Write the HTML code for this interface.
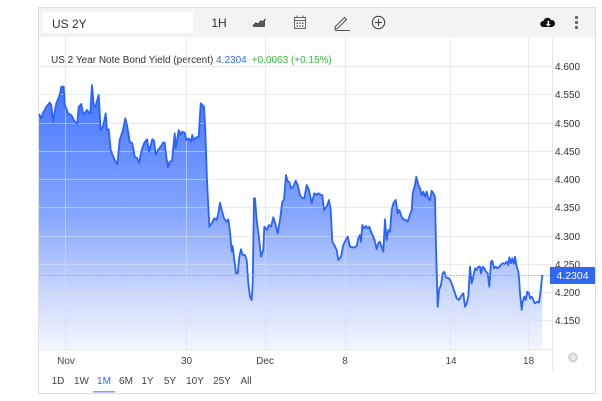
<!DOCTYPE html>
<html><head><meta charset="utf-8">
<style>
html,body{margin:0;padding:0;background:#fff;}
body{width:602px;height:401px;overflow:hidden;font-family:"Liberation Sans",Arial,sans-serif;}
svg{display:block;}
text{font-family:"Liberation Sans",Arial,sans-serif;}
</style></head><body>
<svg width="602" height="401" viewBox="0 0 602 401" xmlns="http://www.w3.org/2000/svg">
<defs>
<linearGradient id="g" gradientUnits="userSpaceOnUse" x1="0" y1="85" x2="0" y2="348">
<stop offset="0" stop-color="#2962ff" stop-opacity="0.88"/>
<stop offset="0.5" stop-color="#2962ff" stop-opacity="0.56"/>
<stop offset="0.82" stop-color="#2962ff" stop-opacity="0.22"/>
<stop offset="1" stop-color="#2962ff" stop-opacity="0.06"/>
</linearGradient>
</defs>
<!-- card -->
<rect x="38.5" y="7.5" width="557" height="386" fill="#fff" stroke="#dedede"/>
<rect x="39" y="8" width="556" height="29" fill="#f3f3f3"/>
<rect x="43" y="12" width="150" height="21" fill="#fff"/>
<text x="52" y="28" font-size="12" fill="#333">US 2Y</text>
<text x="219" y="27" font-size="12" fill="#333" text-anchor="middle">1H</text>
<!-- line chart icon -->
<path d="M253,27 L256,24 L258,25.5 L261,22 L263,23 L265,20 L265,27 Z" fill="#555"/>
<path d="M253,26 L256,23 L258,24.5 L261,21 L263,22 L265.5,19" fill="none" stroke="#333" stroke-width="1.2"/>
<!-- calendar -->
<rect x="294.5" y="17.5" width="11" height="11" fill="none" stroke="#666" stroke-width="1"/>
<line x1="294.5" y1="20.5" x2="305.5" y2="20.5" stroke="#666"/>
<line x1="297" y1="15.5" x2="297" y2="18" stroke="#666"/><line x1="303" y1="15.5" x2="303" y2="18" stroke="#666"/>
<g fill="#666"><rect x="296.5" y="22.5" width="1.5" height="1.5"/><rect x="299.3" y="22.5" width="1.5" height="1.5"/><rect x="302" y="22.5" width="1.5" height="1.5"/><rect x="296.5" y="25.3" width="1.5" height="1.5"/><rect x="299.3" y="25.3" width="1.5" height="1.5"/><rect x="302" y="25.3" width="1.5" height="1.5"/></g>
<!-- pencil -->
<path d="M335.5,26.5 L344.5,17.5 L346.5,19.5 L337.5,28.5 L335,29 Z" fill="none" stroke="#555" stroke-width="1.1"/>
<line x1="335" y1="30.5" x2="350" y2="30.5" stroke="#555" stroke-width="1"/>
<!-- circle plus -->
<circle cx="378.5" cy="22.5" r="6.2" fill="none" stroke="#444" stroke-width="1.1"/>
<line x1="378.5" y1="19" x2="378.5" y2="26" stroke="#444" stroke-width="1.1"/>
<line x1="375" y1="22.5" x2="382" y2="22.5" stroke="#444" stroke-width="1.1"/>
<!-- cloud -->
<path d="M543,27 a3,3 0 0 1 0.5,-6 a4,4 0 0 1 7.5,-1 a3.3,3.3 0 0 1 1,7 Z" fill="#111"/>
<path d="M547.5,21 L547.5,24 L545.8,24 L548.3,26.5 L550.8,24 L549.1,24 L549.1,21 Z" fill="#fff"/>
<!-- dots -->
<g fill="#666"><circle cx="576.5" cy="17.5" r="1.6"/><circle cx="576.5" cy="22.5" r="1.6"/><circle cx="576.5" cy="27.5" r="1.6"/></g>

<text x="51" y="63" font-size="10" fill="#333">US 2 Year Note Bond Yield (percent) <tspan fill="#2f6cf0">4.2304</tspan><tspan fill="#2fbf3a" dx="5">+0.0063 (+0.15%)</tspan></text>

<!-- series -->
<path id="s" d="M39,114 L41.3,118.3 L43,113 L46.3,106.7 L49.7,102.7 L51.3,105 L53,121.7 L54.7,111.7 L56.3,103.3 L59.7,95 L61.3,86.7 L63.7,86.7 L64.7,105 L66.3,108.3 L68,113.3 L71.3,115 L74.7,121.7 L77.3,123.3 L78.7,106.7 L81.3,104 L83,113.3 L84.7,113.3 L87,110 L88.7,112.3 L90.3,113.3 L92,85 L93.7,105 L95.3,106.7 L98.7,95 L100.7,130 L103,126.7 L105.7,113.3 L107,130 L108.7,129.3 L110.7,150 L114.7,160 L117.3,164.3 L119.7,140 L123,130 L125.3,118.3 L127.3,126.7 L129.7,141.7 L132.3,143.3 L134.7,156.7 L137.3,158.3 L139,163.3 L141.3,151.7 L144,143.3 L147,139.3 L149,151.7 L152.3,139.3 L154,140.7 L155.7,155 L158,150 L160.7,146.7 L163,142.7 L164.7,142.7 L166.3,156.7 L168,167.3 L169.7,161.7 L172,161 L174.7,133.3 L175.7,148.3 L178.7,130 L180.7,135 L182,131.7 L184.7,132.7 L186.3,140 L188.7,138.3 L190.7,141.7 L192.3,135 L193.7,140 L196.3,137.3 L198.7,136.7 L200.7,103.3 L202.3,105 L204,106.7 L205.3,130 L207,180 L209.3,226.7 L211.7,223.3 L214.3,218.3 L216.7,220 L218.3,213.3 L220,202.7 L221.7,210 L224,218.3 L226.7,221.7 L228.3,219.3 L230,231.7 L231.7,251.7 L232.7,246 L234.3,260 L236,273.3 L237.7,273.3 L239.3,256.7 L241,249.3 L242.7,255 L245,255 L246.7,260 L248.3,283.3 L250,296.7 L251.7,300 L252.7,283.3 L254,198.3 L255,198.3 L256.7,220 L259,238.3 L261,256.7 L263.3,250 L264.3,226.7 L266.7,230 L269,225 L271,226.7 L273.3,217.3 L275.7,225 L277.7,233.3 L280,220 L282.3,201.7 L284,200 L286,175 L287.7,181.7 L289.3,181.7 L291,188.3 L293.3,186.7 L295.7,180.7 L297.7,185 L300,195 L302.3,198.3 L304.3,198.3 L306.7,185 L309,190 L311.7,203.3 L314.3,193.3 L316.7,195 L318.3,193.3 L321,195 L322.3,195 L324,210 L326.7,206.7 L329,200 L330.7,210 L332.3,241.7 L334.3,245 L336.7,250 L338.3,260 L341,256.7 L343.3,245 L345.7,240 L347.7,236.7 L350,246.7 L352.3,247.3 L355,247.3 L356.7,246 L358.3,238.3 L360,235 L361,241.7 L362.3,225 L364.3,228.3 L366,226 L367.7,228.3 L369.3,226.7 L371,231.7 L373.3,236.7 L375,241.7 L376.7,249.3 L378.3,243.3 L380,241.7 L381,245 L383.3,251.7 L385,219.3 L386.7,240 L388.3,230 L390,231.7 L391.7,210 L393.3,203.3 L395.7,200 L397.7,213.3 L399.3,210 L401.7,216.7 L403.3,219.3 L405.7,220 L407.7,221.7 L409.3,216.7 L411.7,210 L412.7,193.3 L415,185 L416.3,176.7 L418.3,185 L420,188.3 L421.7,195 L423.3,191.7 L425,196.7 L426.7,191.7 L428.3,198.3 L430,200 L431.7,190.7 L433.3,193.3 L435,196.7 L436,246.7 L437.7,306.7 L439,290 L441,285 L442.7,273.3 L444.3,271.7 L445.7,276.7 L447.3,278.3 L449,278.3 L451,281.7 L452.7,286.7 L455,293.3 L456.7,298.3 L459,300 L461.7,295 L463.3,293.3 L465,306.7 L466.7,303.3 L468.3,296.7 L470,266.7 L471.7,283.3 L473.3,276.7 L475,268.3 L476.7,270 L478.3,266.7 L480,266.7 L481,273.3 L482.7,266.7 L484.3,268.3 L486,271.7 L487.7,273.3 L489.3,286.7 L491,261.7 L492.3,260.7 L494,268.3 L495.7,266.7 L497.7,268.3 L500,266 L501.7,264 L503.3,263.3 L505,264 L506.7,261.7 L508.3,265 L509.3,257.3 L511,263.3 L512.3,258.3 L514,264 L515,256.7 L516.7,266.7 L518.3,271.7 L519,276.7 L520,293.3 L521.7,310 L522.7,301.7 L524.3,296.7 L525.7,300 L527.3,291.7 L529,293.3 L530,298.3 L531.7,296.7 L533.3,300 L535,303.3 L537.3,301.7 L539,302.7 L540.7,290 L542.3,275" fill="none"/>
<path d="M39,114 L41.3,118.3 L43,113 L46.3,106.7 L49.7,102.7 L51.3,105 L53,121.7 L54.7,111.7 L56.3,103.3 L59.7,95 L61.3,86.7 L63.7,86.7 L64.7,105 L66.3,108.3 L68,113.3 L71.3,115 L74.7,121.7 L77.3,123.3 L78.7,106.7 L81.3,104 L83,113.3 L84.7,113.3 L87,110 L88.7,112.3 L90.3,113.3 L92,85 L93.7,105 L95.3,106.7 L98.7,95 L100.7,130 L103,126.7 L105.7,113.3 L107,130 L108.7,129.3 L110.7,150 L114.7,160 L117.3,164.3 L119.7,140 L123,130 L125.3,118.3 L127.3,126.7 L129.7,141.7 L132.3,143.3 L134.7,156.7 L137.3,158.3 L139,163.3 L141.3,151.7 L144,143.3 L147,139.3 L149,151.7 L152.3,139.3 L154,140.7 L155.7,155 L158,150 L160.7,146.7 L163,142.7 L164.7,142.7 L166.3,156.7 L168,167.3 L169.7,161.7 L172,161 L174.7,133.3 L175.7,148.3 L178.7,130 L180.7,135 L182,131.7 L184.7,132.7 L186.3,140 L188.7,138.3 L190.7,141.7 L192.3,135 L193.7,140 L196.3,137.3 L198.7,136.7 L200.7,103.3 L202.3,105 L204,106.7 L205.3,130 L207,180 L209.3,226.7 L211.7,223.3 L214.3,218.3 L216.7,220 L218.3,213.3 L220,202.7 L221.7,210 L224,218.3 L226.7,221.7 L228.3,219.3 L230,231.7 L231.7,251.7 L232.7,246 L234.3,260 L236,273.3 L237.7,273.3 L239.3,256.7 L241,249.3 L242.7,255 L245,255 L246.7,260 L248.3,283.3 L250,296.7 L251.7,300 L252.7,283.3 L254,198.3 L255,198.3 L256.7,220 L259,238.3 L261,256.7 L263.3,250 L264.3,226.7 L266.7,230 L269,225 L271,226.7 L273.3,217.3 L275.7,225 L277.7,233.3 L280,220 L282.3,201.7 L284,200 L286,175 L287.7,181.7 L289.3,181.7 L291,188.3 L293.3,186.7 L295.7,180.7 L297.7,185 L300,195 L302.3,198.3 L304.3,198.3 L306.7,185 L309,190 L311.7,203.3 L314.3,193.3 L316.7,195 L318.3,193.3 L321,195 L322.3,195 L324,210 L326.7,206.7 L329,200 L330.7,210 L332.3,241.7 L334.3,245 L336.7,250 L338.3,260 L341,256.7 L343.3,245 L345.7,240 L347.7,236.7 L350,246.7 L352.3,247.3 L355,247.3 L356.7,246 L358.3,238.3 L360,235 L361,241.7 L362.3,225 L364.3,228.3 L366,226 L367.7,228.3 L369.3,226.7 L371,231.7 L373.3,236.7 L375,241.7 L376.7,249.3 L378.3,243.3 L380,241.7 L381,245 L383.3,251.7 L385,219.3 L386.7,240 L388.3,230 L390,231.7 L391.7,210 L393.3,203.3 L395.7,200 L397.7,213.3 L399.3,210 L401.7,216.7 L403.3,219.3 L405.7,220 L407.7,221.7 L409.3,216.7 L411.7,210 L412.7,193.3 L415,185 L416.3,176.7 L418.3,185 L420,188.3 L421.7,195 L423.3,191.7 L425,196.7 L426.7,191.7 L428.3,198.3 L430,200 L431.7,190.7 L433.3,193.3 L435,196.7 L436,246.7 L437.7,306.7 L439,290 L441,285 L442.7,273.3 L444.3,271.7 L445.7,276.7 L447.3,278.3 L449,278.3 L451,281.7 L452.7,286.7 L455,293.3 L456.7,298.3 L459,300 L461.7,295 L463.3,293.3 L465,306.7 L466.7,303.3 L468.3,296.7 L470,266.7 L471.7,283.3 L473.3,276.7 L475,268.3 L476.7,270 L478.3,266.7 L480,266.7 L481,273.3 L482.7,266.7 L484.3,268.3 L486,271.7 L487.7,273.3 L489.3,286.7 L491,261.7 L492.3,260.7 L494,268.3 L495.7,266.7 L497.7,268.3 L500,266 L501.7,264 L503.3,263.3 L505,264 L506.7,261.7 L508.3,265 L509.3,257.3 L511,263.3 L512.3,258.3 L514,264 L515,256.7 L516.7,266.7 L518.3,271.7 L519,276.7 L520,293.3 L521.7,310 L522.7,301.7 L524.3,296.7 L525.7,300 L527.3,291.7 L529,293.3 L530,298.3 L531.7,296.7 L533.3,300 L535,303.3 L537.3,301.7 L539,302.7 L540.7,290 L542.3,275 L542.3,348 L39,348 Z" fill="url(#g)"/>

<!-- grid (drawn over fill, semi-transparent) -->
<g stroke="#d9dde6" stroke-opacity="0.6" stroke-width="1">
<line x1="65.5" y1="37" x2="65.5" y2="349"/>
<line x1="186.5" y1="37" x2="186.5" y2="349"/>
<line x1="265.5" y1="37" x2="265.5" y2="349"/>
<line x1="345.5" y1="37" x2="345.5" y2="349"/>
<line x1="450.5" y1="37" x2="450.5" y2="349"/>
<line x1="528.5" y1="37" x2="528.5" y2="349"/>
<line x1="39" y1="66.5" x2="553" y2="66.5"/>
<line x1="39" y1="94.5" x2="553" y2="94.5"/>
<line x1="39" y1="123.5" x2="553" y2="123.5"/>
<line x1="39" y1="151.5" x2="553" y2="151.5"/>
<line x1="39" y1="179.5" x2="553" y2="179.5"/>
<line x1="39" y1="207.5" x2="553" y2="207.5"/>
<line x1="39" y1="236.5" x2="553" y2="236.5"/>
<line x1="39" y1="264.5" x2="553" y2="264.5"/>
<line x1="39" y1="292.5" x2="553" y2="292.5"/>
<line x1="39" y1="320.5" x2="553" y2="320.5"/>
</g>

<use href="#s" stroke="#2962ff" stroke-width="1.8" stroke-linejoin="round" fill="none"/>

<!-- last value dotted line -->
<line x1="39" y1="275.5" x2="550" y2="275.5" stroke="#86a6f7" stroke-width="1" stroke-dasharray="1.5,1.5"/>

<!-- axes -->
<line x1="552.5" y1="37" x2="552.5" y2="371" stroke="#e3e5ea"/>
<line x1="39" y1="349.5" x2="553" y2="349.5" stroke="#e3e5ea"/>

<g font-size="10" fill="#333">
<text x="555" y="70">4.600</text>
<text x="555" y="98">4.550</text>
<text x="555" y="127">4.500</text>
<text x="555" y="155">4.450</text>
<text x="555" y="183">4.400</text>
<text x="555" y="211">4.350</text>
<text x="555" y="240">4.300</text>
<text x="555" y="268">4.250</text>
<text x="555" y="296">4.200</text>
<text x="555" y="324">4.150</text>
</g>
<rect x="550" y="267" width="45" height="17" fill="#2f66f2"/>
<text x="572.5" y="279" font-size="10.5" fill="#fff" text-anchor="middle">4.2304</text>

<g font-size="10" fill="#444" text-anchor="middle">
<text x="66" y="364">Nov</text>
<text x="186.5" y="364">30</text>
<text x="265" y="364">Dec</text>
<text x="345" y="364">8</text>
<text x="451" y="364">14</text>
<text x="528.5" y="364">18</text>
</g>
<circle cx="573" cy="357.5" r="5" fill="#d4d4d4"/>
<circle cx="573" cy="357.5" r="2.6" fill="#ececec"/>

<g font-size="10" fill="#444" text-anchor="middle">
<text x="58" y="384">1D</text>
<text x="81.5" y="384">1W</text>
<text x="104" y="384" fill="#2f66f2">1M</text>
<text x="126" y="384">6M</text>
<text x="147.5" y="384">1Y</text>
<text x="170" y="384">5Y</text>
<text x="195" y="384">10Y</text>
<text x="222" y="384">25Y</text>
<text x="246" y="384">All</text>
</g>
<rect x="93" y="391" width="22" height="1.5" fill="#7ea2f7"/>
</svg>
</body></html>
